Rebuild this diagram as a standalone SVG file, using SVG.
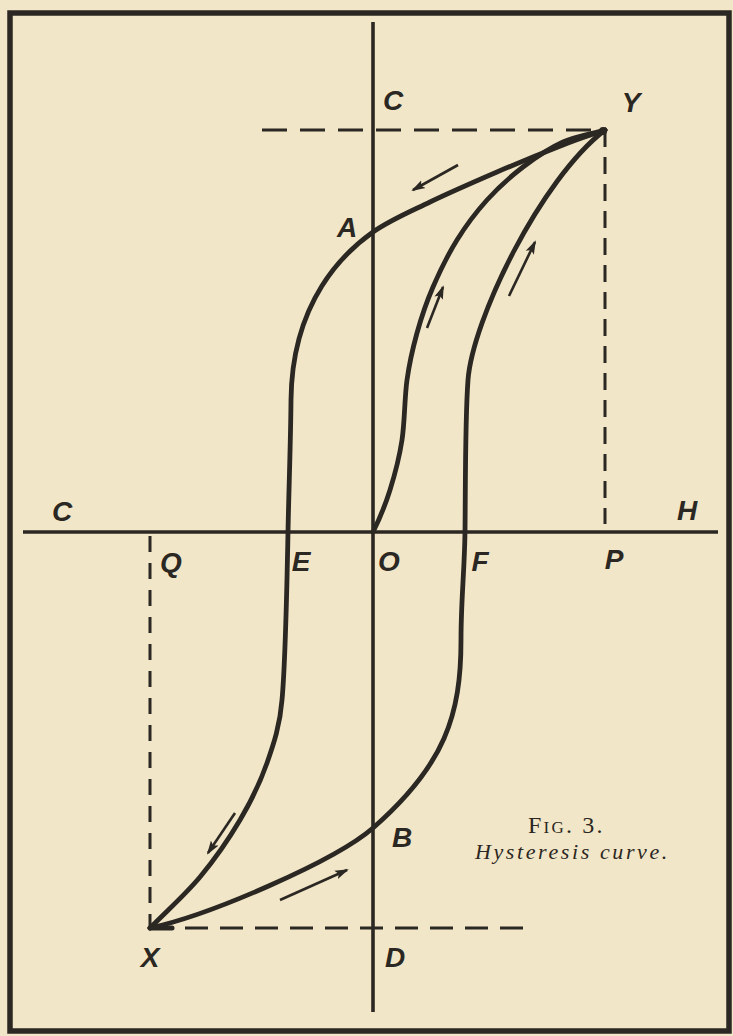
<svg xmlns="http://www.w3.org/2000/svg" width="733" height="1036" viewBox="0 0 733 1036">
<defs>
<style>
.ink{stroke:#2b2722;fill:none;stroke-linecap:round;stroke-linejoin:round}
.frame{stroke-width:5.5;stroke-linecap:square;stroke-linejoin:miter}
.axis{stroke-width:3.6;stroke-linecap:butt}
.dash{stroke-width:3;stroke-linecap:butt}
.curve{stroke-width:4.8}
.arr{stroke-width:2.6;stroke-linecap:butt}
.lbl{font-family:"Liberation Sans","DejaVu Sans",sans-serif;font-weight:bold;font-style:italic;font-size:28px;fill:#2b2722;text-anchor:middle}
.cap{font-family:"Liberation Serif","DejaVu Serif",serif;fill:#2b2722}
</style>
<marker id="ah" viewBox="0 0 14 10" refX="12" refY="5" markerWidth="14" markerHeight="10" markerUnits="userSpaceOnUse" orient="auto">
<path d="M0,0.5 L14,5 L0,9.5 L3,5 Z" fill="#2b2722"/>
</marker>
</defs>
<rect width="733" height="1036" fill="#f2e6c8"/>
<g id="frame">
<rect class="ink frame" x="10" y="13" width="719" height="1018"/>
</g>
<g id="axes">
<line class="ink axis" x1="373" y1="22" x2="373" y2="1012"/>
<line class="ink axis" x1="23" y1="532" x2="718" y2="532"/>
</g>
<g id="guides">
<line class="ink dash" x1="262" y1="130" x2="605" y2="130" stroke-dasharray="25 13"/>
<line class="ink dash" x1="605" y1="130" x2="605" y2="524" stroke-dasharray="17 10"/>
<line class="ink dash" x1="150" y1="536" x2="150" y2="928" stroke-dasharray="16 11"/>
<line class="ink dash" x1="150" y1="928" x2="530" y2="928" stroke-dasharray="23 12"/>
<line class="ink" x1="150" y1="928" x2="172" y2="928" stroke-width="5"/>
</g>
<g id="connectors">
<path id="descending" class="ink curve" d="M605,130 C591,135 581,138 563,145 C545,152 519,162.5 497,172 C475,181.5 450.7,192 430,202 C409.3,212 389.7,220.2 373,232 C345,252 292,300 291,400 C290.7,440 288.8,490 288,532 C287.2,574 285.5,661.5 282,700 C280,725 274,743 267,763 C260,783 251.2,801 240,820 C228.8,839 215,859 200,877 C185,895 166.7,911 150,928"/>
<path id="ascending" class="ink curve" d="M150,928 C210,915 335,861 373,828 C445,765 461,715 461,640 C461,600 464.5,570 465,532 C465.5,494 465,420 468,380 C472.5,320 540,180 605,130"/>
<path id="initial" class="ink curve" d="M373,532 C379,520 385.2,505.3 390,490 C394.8,474.7 399.2,458.3 402,440 C404.8,421.7 404.5,397.8 407,380 C409.5,362.2 412.7,348.5 417,333 C421.3,317.5 426.3,302.5 433,287 C439.7,271.5 448,254.5 457,240 C466,225.5 476,212.2 487,200 C498,187.8 510.3,176.7 523,167 C535.7,157.3 549.3,148.2 563,142 C576.7,135.8 591,134 605,130"/>
<circle cx="603" cy="131" r="4" fill="#2b2722"/>
<line id="arrow1" class="ink arr" x1="458" y1="165" x2="413" y2="190" marker-end="url(#ah)"/>
<line id="arrow2" class="ink arr" x1="427" y1="328" x2="443" y2="287" marker-end="url(#ah)"/>
<line id="arrow3" class="ink arr" x1="509" y1="296" x2="535" y2="242" marker-end="url(#ah)"/>
<line id="arrow4" class="ink arr" x1="235" y1="813" x2="208" y2="853" marker-end="url(#ah)"/>
<line id="arrow5" class="ink arr" x1="280" y1="900" x2="347" y2="870" marker-end="url(#ah)"/>
</g>
<g id="label-C-top"><text class="lbl" x="393" y="110">C</text></g>
<g id="label-Y"><text class="lbl" x="631" y="112">Y</text></g>
<g id="label-A"><text class="lbl" x="347" y="237">A</text></g>
<g id="label-C-left"><text class="lbl" x="62" y="521">C</text></g>
<g id="label-H"><text class="lbl" x="687" y="520">H</text></g>
<g id="label-Q"><text class="lbl" x="171" y="572">Q</text></g>
<g id="label-E"><text class="lbl" x="301" y="571">E</text></g>
<g id="label-O"><text class="lbl" x="389" y="571">O</text></g>
<g id="label-F"><text class="lbl" x="480" y="571">F</text></g>
<g id="label-P"><text class="lbl" x="614" y="569">P</text></g>
<g id="label-B"><text class="lbl" x="402" y="847">B</text></g>
<g id="label-X"><text class="lbl" x="150" y="967">X</text></g>
<g id="label-D"><text class="lbl" x="395" y="967">D</text></g>
<g id="caption">
<text class="cap" x="528" y="833" font-size="24" font-variant="small-caps" letter-spacing="2.2">Fig. 3.</text>
<text class="cap" x="475" y="859" font-size="22" font-style="italic" letter-spacing="2.6">Hysteresis curve.</text>
</g>
</svg>
